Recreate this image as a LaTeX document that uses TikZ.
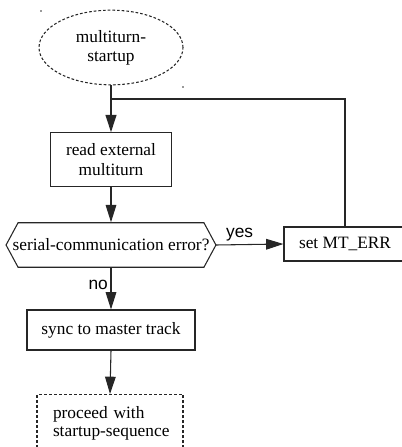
\documentclass[tikz,border=0pt]{standalone}
\usepackage{fontspec}
\setmainfont{Liberation Serif}
\newfontfamily\labelfont{Liberation Sans}
\usepackage{tikz}
\usetikzlibrary{arrows.meta,positioning,shapes.geometric}

\begin{document}
\begin{tikzpicture}[x=0.75pt, y=-0.75pt,
  font=\fontsize{13}{14.5}\selectfont,
  line/.style={draw=black!85, line width=0.8pt},
  arr/.style={line, -{Triangle[length=13pt, width=8pt]}},
  box/.style={line, rectangle, align=center, inner sep=2pt},
  lbl/.style={font=\labelfont\fontsize{13}{14.5}\selectfont, inner sep=2pt}]
\clip (0,0) rectangle (402,447);
% --- start ---
\node[line, ellipse, dash pattern=on 2pt off 1.5pt, align=center,
      minimum width=108pt, minimum height=56pt] (start) at (111,47.5)
  {multiturn-\\startup};
\fill[black!80] (41,11) circle (0.6pt);
\fill[black!80] (183,87) circle (0.6pt);
\coordinate (join) at (111,99);
% --- read and check ---
\node[box, minimum width=91pt, minimum height=40pt] (read) at (111,159.5)
  {read external\\multiturn};
\node[minimum height=33pt, inner sep=0pt] (err) at (111,245)
  {\makebox[139pt]{serial-communication error?}};
\draw[line] (err.north west) -- (err.north east) -- ([xshift=9pt]err.east)
  -- (err.south east) -- (err.south west) -- ([xshift=-9pt]err.west) -- cycle;
\node[box, minimum width=91.5pt, minimum height=25.5pt] (set) at (345,244)
  {set MT\_ERR};
% --- continue ---
\node[box, minimum width=126pt, minimum height=30pt] (sync) at (111,330)
  {sync to master track};
\node[line, dash pattern=on 2.25pt off 1.5pt, anchor=north, align=left,
      text width=85.5pt, inner xsep=12pt, inner ysep=9pt] (proceed) at (110,394)
  {proceed with\\[-1pt]\mbox{startup-sequence}\\ };
% --- connectors ---
\draw[line] (start.south) -- (join);
\draw[line] (set.north) |- (join);
\draw[arr, line width=1.4pt] (join) -- (read.north);
\draw[arr] (read.south) -- ([yshift=0.4pt]err.north);
\draw[arr] ([xshift=9pt]err.east) -- node[lbl, above, pos=0.35] {yes} (set.west);
\draw[arr] (err.south) -- node[lbl, left, pos=0.42] {no} (sync.north);
\draw[arr] (sync.south) -- (proceed.north);
\end{tikzpicture}
\end{document}
